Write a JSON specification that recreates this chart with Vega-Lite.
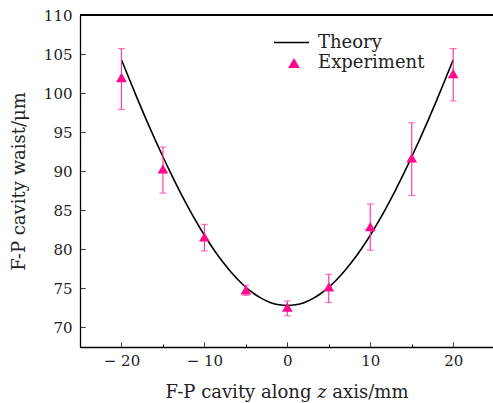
{
  "$schema": "https://vega.github.io/schema/vega-lite/v6.json",
  "width": 413,
  "height": 332,
  "autosize": "none",
  "padding": {"left": 80, "top": 15, "right": 0, "bottom": 56},
  "background": "white",
  "config": {
    "view": {"stroke": null},
    "font": "DejaVu Serif",
    "axis": {
      "domainColor": "#000",
      "domainWidth": 1.3,
      "tickColor": "#000",
      "tickWidth": 1,
      "labelFont": "DejaVu Serif",
      "labelFontSize": 15,
      "labelColor": "#222",
      "titleFont": "DejaVu Serif",
      "titleFontSize": 18,
      "titleFontWeight": "normal",
      "titleColor": "#222",
      "grid": false
    },
    "legend": {
      "labelFont": "DejaVu Serif",
      "labelFontSize": 18,
      "labelColor": "#222",
      "padding": 0
    }
  },
  "datasets": {
    "theory": [
      {"z": -20, "w": 104.28}, {"z": -19, "w": 101.64}, {"z": -18, "w": 99.07}, {"z": -17, "w": 96.58},
      {"z": -16, "w": 94.17}, {"z": -15, "w": 91.85}, {"z": -14, "w": 89.62}, {"z": -13, "w": 87.49},
      {"z": -12, "w": 85.48}, {"z": -11, "w": 83.58}, {"z": -10, "w": 81.81}, {"z": -9, "w": 80.18},
      {"z": -8, "w": 78.69}, {"z": -7, "w": 77.35}, {"z": -6, "w": 76.17}, {"z": -5, "w": 75.15},
      {"z": -4, "w": 74.32}, {"z": -3, "w": 73.66}, {"z": -2, "w": 73.18}, {"z": -1, "w": 72.9},
      {"z": 0, "w": 72.8},
      {"z": 1, "w": 72.9}, {"z": 2, "w": 73.18}, {"z": 3, "w": 73.66}, {"z": 4, "w": 74.32},
      {"z": 5, "w": 75.15}, {"z": 6, "w": 76.17}, {"z": 7, "w": 77.35}, {"z": 8, "w": 78.69},
      {"z": 9, "w": 80.18}, {"z": 10, "w": 81.81}, {"z": 11, "w": 83.58}, {"z": 12, "w": 85.48},
      {"z": 13, "w": 87.49}, {"z": 14, "w": 89.62}, {"z": 15, "w": 91.85}, {"z": 16, "w": 94.17},
      {"z": 17, "w": 96.58}, {"z": 18, "w": 99.07}, {"z": 19, "w": 101.64}, {"z": 20, "w": 104.28}
    ],
    "exp": [
      {"z": -20, "w": 102.0, "lo": 97.9, "hi": 105.7},
      {"z": -15, "w": 90.3, "lo": 87.2, "hi": 93.1},
      {"z": -10, "w": 81.6, "lo": 79.8, "hi": 83.2},
      {"z": -5, "w": 74.8, "lo": 74.1, "hi": 75.4},
      {"z": 0, "w": 72.6, "lo": 71.5, "hi": 73.4},
      {"z": 5, "w": 75.2, "lo": 73.2, "hi": 76.8},
      {"z": 10, "w": 82.9, "lo": 79.9, "hi": 85.8},
      {"z": 15, "w": 91.7, "lo": 86.9, "hi": 96.2},
      {"z": 20, "w": 102.5, "lo": 99.0, "hi": 105.7}
    ]
  },
  "layer": [
    {
      "data": {"name": "theory"},
      "transform": [{"calculate": "'Theory'", "as": "s"}],
      "mark": {"type": "line", "color": "#000", "strokeWidth": 1.6, "interpolate": "monotone"},
      "encoding": {
        "x": {
          "field": "z", "type": "quantitative",
          "title": "F-P cavity along 𝑧 axis/mm",
          "scale": {"domain": [-25, 24.8], "nice": false, "zero": false},
          "axis": {
            "values": [-25, -20, -15, -10, -5, 0, 5, 10, 15, 20],
            "labelExpr": "datum.value % 10 === 0 && datum.value !== -25 ? (datum.value < 0 ? '− ' + (-datum.value) : '' + datum.value) : ''",
            "tickSize": -5,
            "tickDash": {"condition": {"test": "datum.value % 10 === 0", "value": [1, 0]}, "value": [3, 20]},
            "labelPadding": 11,
            "titlePadding": 15
          }
        },
        "y": {
          "field": "w", "type": "quantitative",
          "title": "F-P cavity waist/μm",
          "scale": {"domain": [67.5, 110], "nice": false, "zero": false},
          "axis": {
            "values": [70, 72.5, 75, 77.5, 80, 82.5, 85, 87.5, 90, 92.5, 95, 97.5, 100, 102.5, 105, 107.5, 110],
            "labelExpr": "datum.value % 5 === 0 ? '' + datum.value : ''",
            "tickSize": -5,
            "tickDash": {"condition": {"test": "datum.value % 5 === 0", "value": [1, 0]}, "value": [3, 20]},
            "labelPadding": 13,
            "titlePadding": 15
          }
        },
        "stroke": {
          "field": "s", "type": "nominal",
          "scale": {"domain": ["Theory"], "range": ["#000"]},
          "legend": {
            "orient": "none", "legendX": 193, "legendY": 9, "title": null,
            "symbolType": "stroke", "symbolSize": 1225, "symbolStrokeWidth": 1.6, "labelOffset": 8
          }
        }
      }
    },
    {
      "data": {"name": "theory"},
      "mark": {"type": "rule", "color": "#000", "strokeWidth": 1.3},
      "encoding": {
        "y": {"datum": 110, "type": "quantitative", "title": "F-P cavity waist/μm"}
      }
    },
    {
      "data": {"name": "exp"},
      "mark": {"type": "rule", "color": "#ff3da0", "strokeWidth": 1.2},
      "encoding": {
        "x": {"field": "z", "type": "quantitative", "title": "F-P cavity along 𝑧 axis/mm"},
        "y": {"field": "lo", "type": "quantitative", "title": "F-P cavity waist/μm"},
        "y2": {"field": "hi"}
      }
    },
    {
      "data": {"name": "exp"},
      "mark": {"type": "tick", "color": "#ff3da0", "orient": "horizontal", "size": 7, "thickness": 1.2},
      "encoding": {
        "x": {"field": "z", "type": "quantitative", "title": "F-P cavity along 𝑧 axis/mm"},
        "y": {"field": "lo", "type": "quantitative", "title": "F-P cavity waist/μm"}
      }
    },
    {
      "data": {"name": "exp"},
      "mark": {"type": "tick", "color": "#ff3da0", "orient": "horizontal", "size": 7, "thickness": 1.2},
      "encoding": {
        "x": {"field": "z", "type": "quantitative", "title": "F-P cavity along 𝑧 axis/mm"},
        "y": {"field": "hi", "type": "quantitative", "title": "F-P cavity waist/μm"}
      }
    },
    {
      "data": {"name": "exp"},
      "transform": [{"calculate": "'Experiment'", "as": "e"}],
      "mark": {"type": "point", "filled": true, "color": "#ff0a8c", "opacity": 1, "size": 115},
      "encoding": {
        "x": {"field": "z", "type": "quantitative", "title": "F-P cavity along 𝑧 axis/mm"},
        "y": {"field": "w", "type": "quantitative", "title": "F-P cavity waist/μm"},
        "shape": {
          "field": "e", "type": "nominal",
          "scale": {"domain": ["Experiment"], "range": ["triangle-up"]},
          "legend": {
            "orient": "none", "legendX": 205, "legendY": 39, "title": null,
            "symbolSize": 140, "symbolFillColor": "#ff0a8c", "symbolStrokeColor": "#ff0a8c", "symbolOpacity": 1, "labelOffset": 15
          }
        }
      }
    }
  ]
}
